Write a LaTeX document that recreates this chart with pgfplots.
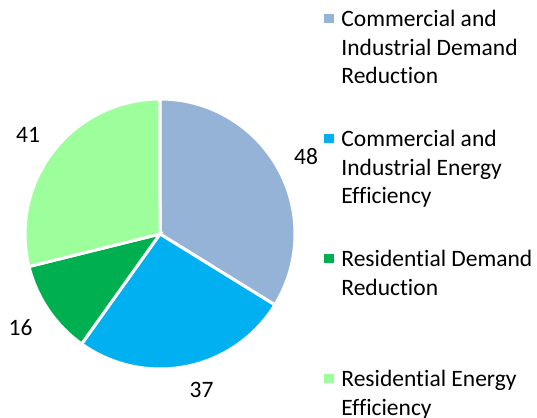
\documentclass[border=0pt]{standalone}
\usepackage{fontspec}
\setmainfont{Carlito}[Ligatures=NoCommon]
\usepackage{pgfplots}
\usepackage{pgfplotstable}
\pgfplotsset{compat=1.18}
\definecolor{cA}{HTML}{95B3D7}
\definecolor{cB}{HTML}{00B0F0}
\definecolor{cC}{HTML}{00B050}
\definecolor{cD}{HTML}{9CFF9C}

\pgfplotstableread{
value
48
37
16
41
}\piedata
\pgfplotstablegetelem{0}{value}\of\piedata \edef\vA{\pgfplotsretval}
\pgfplotstablegetelem{1}{value}\of\piedata \edef\vB{\pgfplotsretval}
\pgfplotstablegetelem{2}{value}\of\piedata \edef\vC{\pgfplotsretval}
\pgfplotstablegetelem{3}{value}\of\piedata \edef\vD{\pgfplotsretval}
\pgfmathsetmacro{\tot}{\vA+\vB+\vC+\vD}
\pgfmathsetmacro{\aA}{90}
\pgfmathsetmacro{\aB}{\aA-360*(\vA/\tot)}
\pgfmathsetmacro{\aC}{\aB-360*(\vB/\tot)}
\pgfmathsetmacro{\aD}{\aC-360*(\vC/\tot)}
\pgfmathsetmacro{\aE}{\aD-360*(\vD/\tot)}
\pgfmathsetmacro{\mA}{(\aA+\aB)/2}
\pgfmathsetmacro{\mB}{(\aB+\aC)/2}
\pgfmathsetmacro{\mC}{(\aC+\aD)/2}
\pgfmathsetmacro{\mD}{(\aD+\aE)/2}

\begin{document}
\begin{tikzpicture}[font=\fontsize{23.6}{28.6}\selectfont]
\begin{axis}[width=537bp, height=418bp, scale only axis,
  xmin=0, xmax=537, ymin=0, ymax=418, hide axis, clip=false,
  legend style={at={(axis cs:324,408)}, anchor=north west, draw=none, fill=none,
    inner sep=0pt, outer sep=0pt, column sep=8.5bp, row sep=0pt,
    font=\fontsize{23.6}{28.6}\selectfont,
    nodes={inner sep=0pt, outer sep=0pt, text height=17bp, text depth=103bp, anchor=base west}},
]
\addlegendimage{legend image code/.code={\fill[cA] (0bp,4.5bp) rectangle (8.5bp,13bp);}}
\addlegendentry{\parbox[t]{200bp}{Commercial and\\Industrial Demand\\Reduction}}
\addlegendimage{legend image code/.code={\fill[cB] (0bp,4.5bp) rectangle (8.5bp,13bp);}}
\addlegendentry{\parbox[t]{200bp}{Commercial and\\Industrial Energy\\Efficiency}}
\addlegendimage{legend image code/.code={\fill[cC] (0bp,4.5bp) rectangle (8.5bp,13bp);}}
\addlegendentry{\parbox[t]{200bp}{Residential Demand\\Reduction}}
\addlegendimage{legend image code/.code={\fill[cD] (0bp,4.5bp) rectangle (8.5bp,13bp);}}
\addlegendentry{\parbox[t]{200bp}{Residential Energy\\Efficiency}}

\fill[cA, draw=white, line width=3bp] (axis cs:160,184) -- ++(\aA:135bp) arc[start angle=\aA, end angle=\aB, radius=135bp] -- cycle;
\fill[cB, draw=white, line width=3bp] (axis cs:160,184) -- ++(\aB:135bp) arc[start angle=\aB, end angle=\aC, radius=135bp] -- cycle;
\fill[cC, draw=white, line width=3bp] (axis cs:160,184) -- ++(\aC:135bp) arc[start angle=\aC, end angle=\aD, radius=135bp] -- cycle;
\fill[cD, draw=white, line width=3bp] (axis cs:160,184) -- ++(\aD:135bp) arc[start angle=\aD, end angle=\aE, radius=135bp] -- cycle;

\path (axis cs:160,184) ++(\mA:165bp) node[xshift=2bp, yshift=-3bp] {\vA};
\path (axis cs:160,184) ++(\mB:165bp) node[xshift=9bp, yshift=6bp] {\vB};
\path (axis cs:160,184) ++(\mC:165bp) node[xshift=-3bp, yshift=-1bp] {\vC};
\path (axis cs:160,184) ++(\mD:165bp) node[xshift=-2bp, yshift=-3bp] {\vD};
\end{axis}
\pgfresetboundingbox
\useasboundingbox (current axis.south west) rectangle (current axis.north east);
\end{tikzpicture}
\end{document}
